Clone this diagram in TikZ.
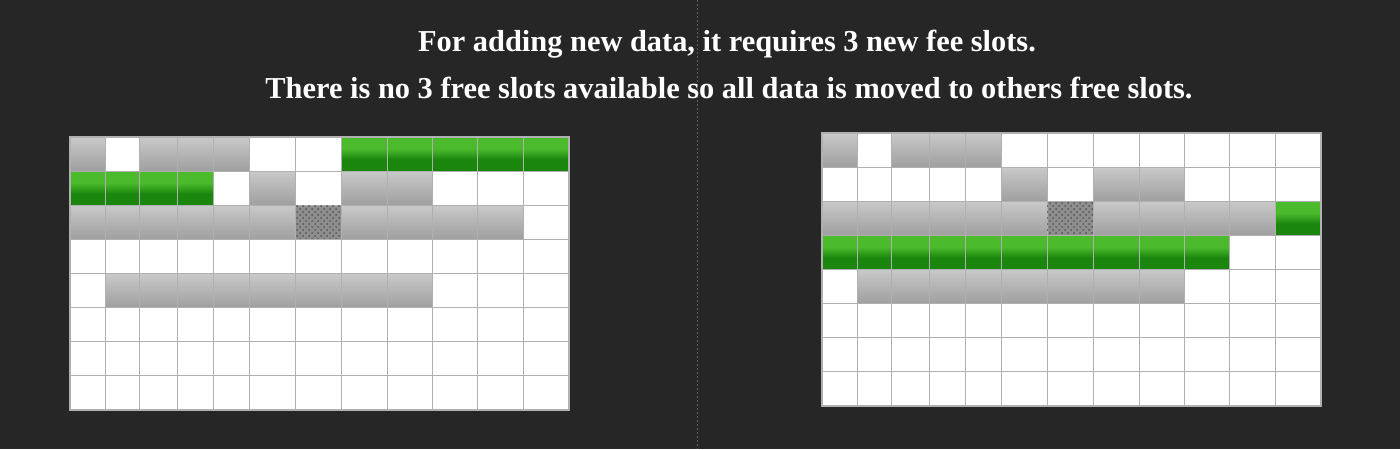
\documentclass[tikz,border=0pt]{standalone}
\usepackage{fontspec}
\setmainfont{Liberation Serif}
\usetikzlibrary{patterns}

\definecolor{bgdark}{HTML}{262626}
\definecolor{gridline}{HTML}{B0B0B0}
\definecolor{slotlight}{HTML}{C9C9C9}
\definecolor{slotdark}{HTML}{9F9F9F}
\definecolor{lockedgray}{HTML}{8E8E8E}
\definecolor{lockeddots}{HTML}{555555}
\definecolor{greenlight}{HTML}{4BBB2D}
\definecolor{greendark}{HTML}{1B860E}
\definecolor{divider}{HTML}{5E5E5E}

\pgfdeclareverticalshading{greenslot}{100bp}{color(0bp)=(greendark); color(42bp)=(greendark); color(58bp)=(greenlight); color(100bp)=(greenlight)}

\begin{document}
\begin{tikzpicture}[x=0.5pt, y=-0.5pt,
    title/.style={anchor=base, text=white, font=\fontsize{15.2}{18}\selectfont\bfseries},
    cellline/.style={draw=gridline, line width=0.5pt},
    slot0/.style={fill=white},
    slot1/.style={top color=slotlight, bottom color=slotdark},
    slot2/.style={fill=lockedgray, postaction={pattern=crosshatch dots, pattern color=lockeddots}},
    slot3/.style={shading=greenslot}]
%      \draw [help lines] (0,0) grid[step=50] (1400,449);
  \fill [bgdark] (0,0) rectangle (1400,449);
  \useasboundingbox (0,0) rectangle (1400,449);
  \def\colx{{0,35,69,107,143,179,225,271,317,362,407,453,499}}

  \draw [divider, line width=0.4pt, dash pattern=on 1pt off 1pt] (697,0) -- (697,449);

  \node [title] (line1) at (727,52) {For adding new data, it requires 3 new fee slots.};
  \node [title] (line2) at (729,98) {There is no 3 free slots available so all data is moved to others free slots.};

  % before: 0 free, 1 used, 2 locked, 3 new
  \begin{scope}[shift={(70,137)}]
    \foreach \row [count=\r] in {{1,0,1,1,1,0,0,3,3,3,3,3},
                                 {3,3,3,3,0,1,0,1,1,0,0,0},
                                 {1,1,1,1,1,1,2,1,1,1,1,0},
                                 {0,0,0,0,0,0,0,0,0,0,0,0},
                                 {0,1,1,1,1,1,1,1,1,0,0,0},
                                 {0,0,0,0,0,0,0,0,0,0,0,0},
                                 {0,0,0,0,0,0,0,0,0,0,0,0},
                                 {0,0,0,0,0,0,0,0,0,0,0,0}}
      \foreach \k [count=\c] in \row {
        \pgfmathsetmacro\xa{\colx[\c-1]}
        \pgfmathsetmacro\xb{\colx[\c]}
        \path [slot\k, cellline] (\xa,{(\r-1)*34.1}) rectangle (\xb,{\r*34.1});
      }
    \draw [gridline, line width=1pt] (0,0) rectangle (499,273);
  \end{scope}

  % after moving
  \begin{scope}[shift={(822,133)}]
    \foreach \row [count=\r] in {{1,0,1,1,1,0,0,0,0,0,0,0},
                                 {0,0,0,0,0,1,0,1,1,0,0,0},
                                 {1,1,1,1,1,1,2,1,1,1,1,3},
                                 {3,3,3,3,3,3,3,3,3,3,0,0},
                                 {0,1,1,1,1,1,1,1,1,0,0,0},
                                 {0,0,0,0,0,0,0,0,0,0,0,0},
                                 {0,0,0,0,0,0,0,0,0,0,0,0},
                                 {0,0,0,0,0,0,0,0,0,0,0,0}}
      \foreach \k [count=\c] in \row {
        \pgfmathsetmacro\xa{\colx[\c-1]}
        \pgfmathsetmacro\xb{\colx[\c]}
        \path [slot\k, cellline] (\xa,{(\r-1)*34.1}) rectangle (\xb,{\r*34.1});
      }
    \draw [gridline, line width=1pt] (0,0) rectangle (499,273);
  \end{scope}
\end{tikzpicture}
\end{document}
